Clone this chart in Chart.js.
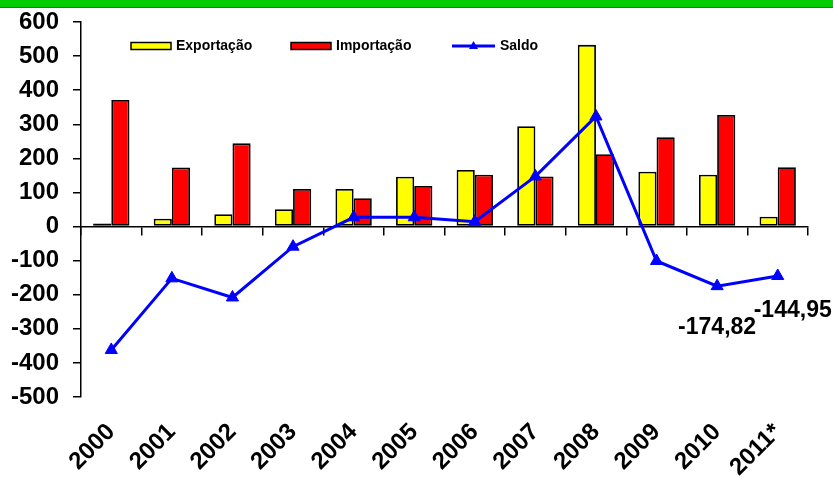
<!DOCTYPE html>
<html>
<head>
<meta charset="utf-8">
<script src="https://cdn.jsdelivr.net/npm/chart.js@4.4.0/dist/chart.umd.min.js"></script>
<style>
html,body{margin:0;padding:0;background:#fff}
#wrap{position:relative;width:833px;height:478px;overflow:hidden}
#topbar{position:absolute;left:0;top:0;width:833px;height:7px;background:#00cc00;border-bottom:1px solid #2a4fc8}
canvas{position:absolute;left:0;top:0}
</style>
</head>
<body>
<div id="wrap">
  <canvas id="chart" width="833" height="478"></canvas>
  <div id="topbar"></div>
</div>
<script>
const years = ['2000', '2001', '2002', '2003', '2004', '2005', '2006', '2007', '2008', '2009', '2010', '2011*']
const exportacao = [9, 23, 36, 51, 110, 146, 166, 294, 533, 161, 152, 29]
const importacao = [371, 173, 244, 110, 83, 119, 152, 147, 212, 262, 327, 174]
const saldo = [-362, -152, -208, -59, 27, 27, 14, 147, 323, -101, -174.82, -144.95]
const seriesNames = ['Exportação', 'Importação', 'Saldo']
const labelledPoints = [10, 11]
const yMin = -500
const yMax = 600
const yStep = 100

const FONT = '"Liberation Sans", Arial, Helvetica, sans-serif'

// legend drawn inside the plot area, like the original
const insideLegend = {
    id: 'insideLegend',
    afterDraw(chart){
        const ctx = chart.ctx
        const area = chart.chartArea
        const y = area.top + 24
        const offsets = [50, 210, 371]
        ctx.save()
        ctx.font = 'bold 14px ' + FONT
        ctx.textBaseline = 'middle'
        chart.data.datasets.forEach((ds, i) => {
            const x = area.left + offsets[i]
            if(ds.type == 'line'){
                ctx.strokeStyle = ds.borderColor
                ctx.lineWidth = 3
                ctx.beginPath()
                ctx.moveTo(x, y)
                ctx.lineTo(x + 43, y)
                ctx.stroke()
                ctx.fillStyle = ds.borderColor
                ctx.beginPath()
                ctx.moveTo(x + 21.5, y - 5)
                ctx.lineTo(x + 26, y + 3)
                ctx.lineTo(x + 17, y + 3)
                ctx.closePath()
                ctx.fill()
                ctx.fillStyle = '#000'
                ctx.fillText(ds.label, x + 48, y)
            }else{
                ctx.fillStyle = ds.backgroundColor
                ctx.fillRect(x, y - 3.5, 40, 7)
                ctx.strokeStyle = '#000'
                ctx.lineWidth = 1.5
                ctx.strokeRect(x, y - 3.5, 40, 7)
                ctx.fillStyle = '#000'
                ctx.fillText(ds.label, x + 45, y)
            }
        })
        ctx.restore()
    }
}

// value labels for the last two Saldo points
const saldoLabels = {
    id: 'saldoLabels',
    afterDatasetsDraw(chart){
        const ctx = chart.ctx
        const meta = chart.getDatasetMeta(2)
        const shift = {10: [0, 42], 11: [15, 35]}
        ctx.save()
        ctx.font = 'bold 23px ' + FONT
        ctx.fillStyle = '#000'
        ctx.textAlign = 'center'
        ctx.textBaseline = 'middle'
        labelledPoints.forEach(i => {
            const pt = meta.data[i]
            const txt = saldo[i].toFixed(2).replace('.', ',')
            ctx.fillText(txt, pt.x + shift[i][0], pt.y + shift[i][1])
        })
        ctx.restore()
    }
}

const tickFont = {family: FONT, size: 24, weight: 'bold'}

new Chart(document.getElementById('chart'), {
    type: 'bar',
    data: {
        labels: years,
        datasets: [
            {
                label: seriesNames[0],
                data: exportacao,
                backgroundColor: '#ffff00',
                borderColor: '#000',
                borderWidth: 1.8,
                borderSkipped: false,
                categoryPercentage: 0.6,
                barPercentage: 1.0,
                order: 1
            },
            {
                label: seriesNames[1],
                data: importacao,
                backgroundColor: '#ff0000',
                borderColor: '#000',
                borderWidth: 1.8,
                borderSkipped: false,
                categoryPercentage: 0.6,
                barPercentage: 1.0,
                order: 1
            },
            {
                type: 'line',
                label: seriesNames[2],
                data: saldo,
                borderColor: '#0000ff',
                backgroundColor: '#0000ff',
                borderWidth: 3,
                pointStyle: 'triangle',
                pointRadius: 7,
                pointBorderWidth: 1,
                tension: 0,
                order: 0
            }
        ]
    },
    options: {
        responsive: false,
        animation: false,
        devicePixelRatio: 1,
        layout: {padding: {top: 22, right: 25, bottom: 0, left: 0}},
        plugins: {
            legend: {display: false},
            tooltip: {enabled: false}
        },
        scales: {
            y: {
                min: yMin,
                max: yMax,
                afterFit(scale){
                    scale.width = 81
                    scale.paddingTop = 0
                    scale.paddingBottom = 0
                },
                ticks: {stepSize: yStep, color: '#000', font: tickFont, padding: 14},
                grid: {drawOnChartArea: false, tickLength: 8, color: '#000', lineWidth: 1.5},
                border: {color: '#000', width: 1.5}
            },
            x: {
                position: {y: 0},
                offset: true,
                afterFit(scale){ scale.height = 0 },
                ticks: {display: false},
                grid: {offset: true, drawOnChartArea: false, tickLength: 8, color: '#000', lineWidth: 1.5},
                border: {color: '#000', width: 1.5}
            },
            x2: {
                type: 'category',
                position: 'bottom',
                offset: true,
                afterFit(scale){ scale.height = 81 },
                grid: {display: false, drawTicks: false},
                border: {display: false},
                ticks: {autoSkip: false, maxRotation: 45, minRotation: 45, padding: 21, color: '#000', font: tickFont}
            }
        }
    },
    plugins: [insideLegend, saldoLabels]
})
</script>
</body>
</html>
